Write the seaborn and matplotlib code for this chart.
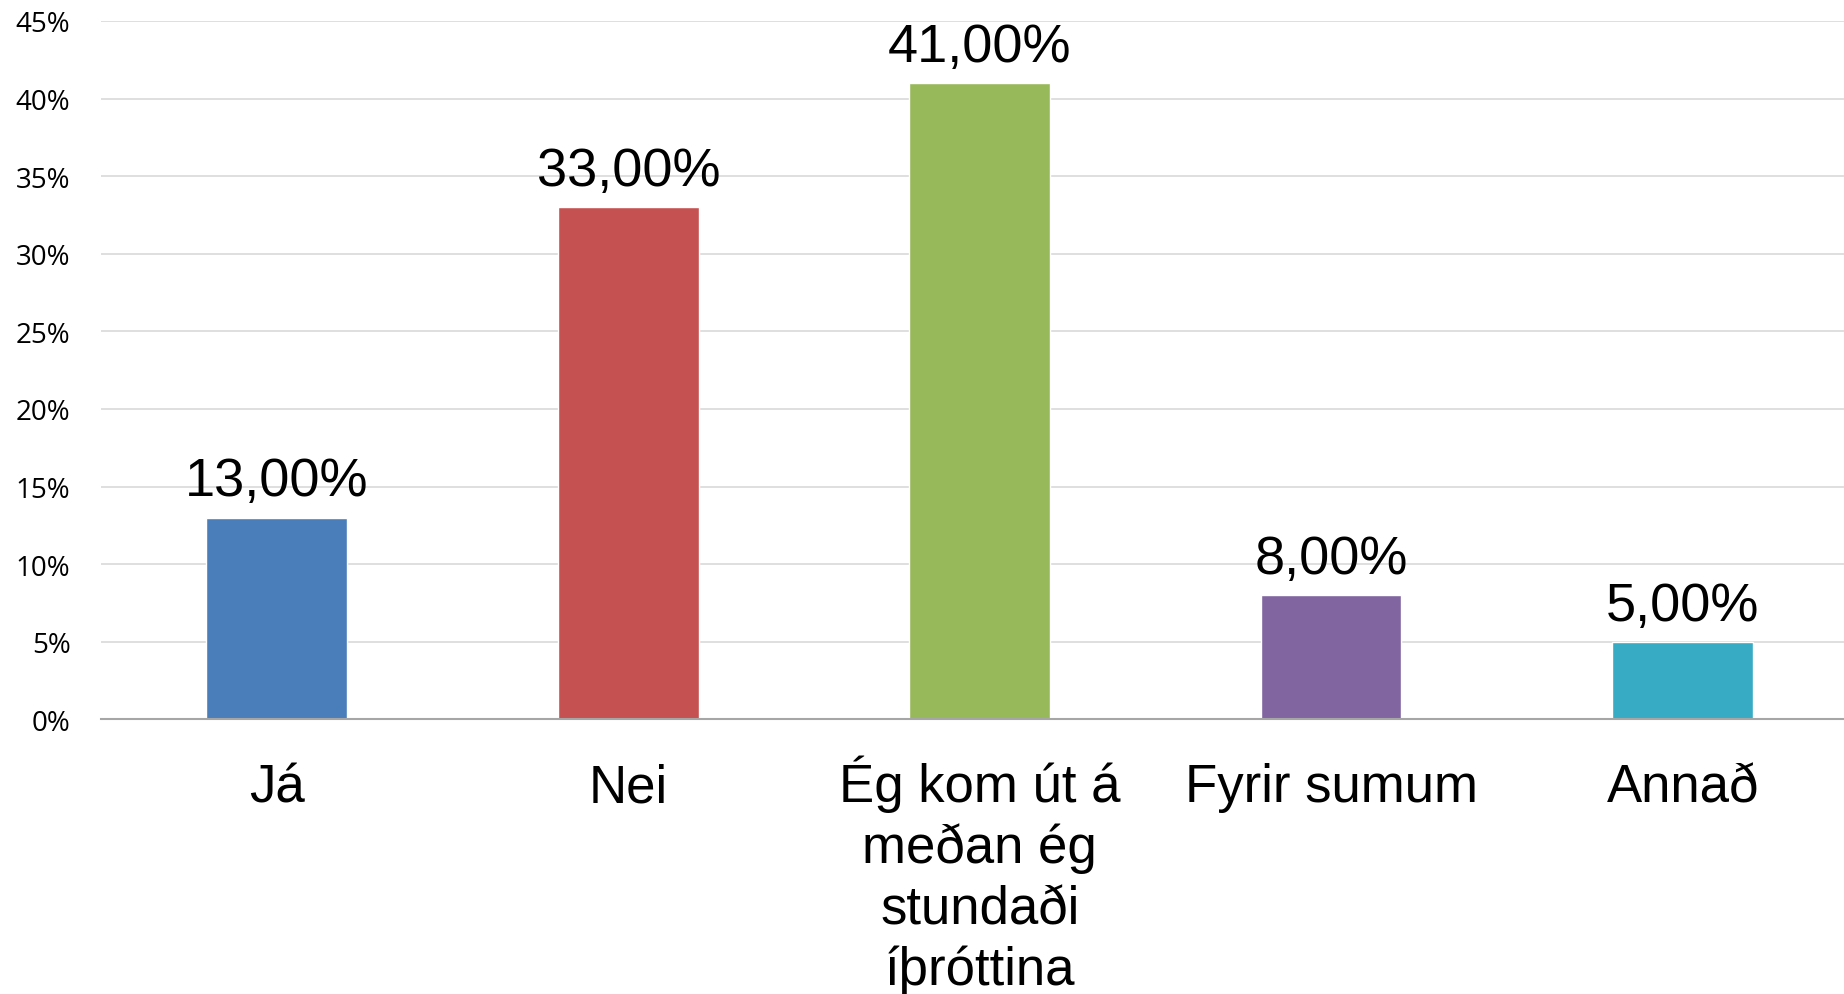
import numpy as np
import pandas as pd
import matplotlib
matplotlib.use("Agg")
import matplotlib.pyplot as plt
import matplotlib.transforms as mtransforms
import seaborn as sns
from matplotlib.ticker import FuncFormatter

# --- data ---
categories = ["Já", "Nei", "Ég kom út á\nmeðan ég\nstundaði\níþróttina", "Fyrir sumum", "Annað"]
shares = [0.13, 0.33, 0.41, 0.08, 0.05]
bar_colors = ["#4A7EBB", "#C55150", "#98B95A", "#8165A0", "#38ABC4"]
y_ticks = [0.0, 0.05, 0.10, 0.15, 0.20, 0.25, 0.30, 0.35, 0.40, 0.45]

df = pd.DataFrame({"svar": categories, "hlutfall": shares})

sns.set_style("white")
plt.rcParams['font.family'] = ['Liberation Sans', 'DejaVu Sans']
plt.rcParams['text.color'] = 'black'

fig = plt.figure(figsize=(18.44, 9.95), dpi=100)
ax = fig.add_axes([0.0548, 0.276, 0.953, 0.702])

sns.barplot(data=df, x="svar", y="hlutfall", hue="svar", palette=bar_colors,
            width=0.4, saturation=1, legend=False, ax=ax)

# value labels above bars, Icelandic decimal comma
for i, v in enumerate(shares):
    ax.annotate(f"{v*100:.2f}%".replace(".", ","), (i, v), xytext=(0, 8),
                textcoords="offset points", ha="center", va="bottom",
                fontsize=39, color="black")

ax.set_ylim(0, 0.45)
ax.set_xlim(-0.5, len(categories) - 0.5)
ax.set_yticks(y_ticks)
ax.yaxis.set_major_formatter(FuncFormatter(lambda v, _: f"{v*100:.0f}%"))
ax.grid(axis="y", color="#D9D9D9", linewidth=1.2)
ax.set_axisbelow(True)

for s in ["top", "right", "left"]:
    ax.spines[s].set_visible(False)
ax.spines["bottom"].set_color("#A6A6A6")
ax.spines["bottom"].set_linewidth(1.5)

ax.tick_params(axis="both", length=0)
ax.tick_params(axis="y", pad=22, colors="black")
for lbl in ax.get_yticklabels():
    lbl.set_fontfamily("Open Sans")
    lbl.set_fontsize(20)

# category labels: each line on its own baseline so first lines line up
ax.set_xticks(range(len(categories)))
ax.set_xticklabels([])
trans = mtransforms.blended_transform_factory(ax.transData, ax.transAxes)
first_base, step = -0.117, 0.0873
for i, name in enumerate(categories):
    for j, line in enumerate(name.split("\n")):
        ax.text(i, first_base - j * step, line, transform=trans, ha="center",
                va="baseline", fontsize=38, color="black", clip_on=False)

ax.set_xlabel("")
ax.set_ylabel("")

fig.savefig("out.png", dpi=100)
